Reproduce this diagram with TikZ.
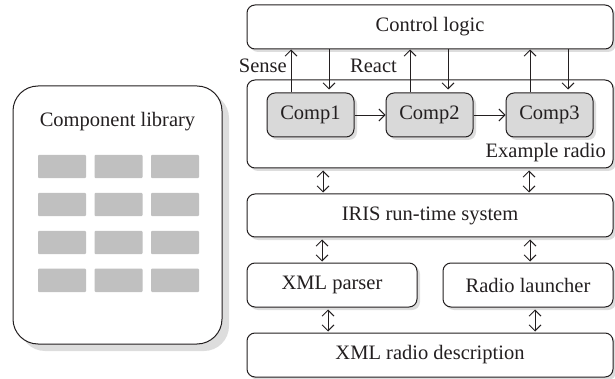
\documentclass[tikz,border=0pt]{standalone}
\usepackage{fontspec}
\setmainfont{Liberation Serif}
\usetikzlibrary{arrows.meta,shadows,calc}
\definecolor{txt}{HTML}{231F20}
\definecolor{compfill}{HTML}{D9D9D9}
\definecolor{libgray}{HTML}{C0C0C0}
\definecolor{shade}{HTML}{DDDDDD}
\tikzset{
  box/.style={draw=txt, line width=1pt, rounded corners=8pt, fill=white,
    text=txt, font=\fontsize{20.5}{24}\selectfont, inner sep=0pt,
    drop shadow={shadow xshift=3pt, shadow yshift=-3pt, fill=shade, opacity=1}},
  compbox/.style={box, fill=compfill, minimum width=87pt, minimum height=44pt},
  wide/.style={box, minimum width=366pt, minimum height=44pt},
  arr/.style={draw=txt, line width=0.9pt, -{Straight Barb[length=6pt,width=12pt]}},
  darr/.style={draw=txt, line width=0.9pt, {Straight Barb[length=6pt,width=12pt]}-{Straight Barb[length=6pt,width=12pt]}},
  lbl/.style={text=txt, font=\fontsize{20.5}{24}\selectfont, inner sep=0pt},
}
\begin{document}
\begin{tikzpicture}[x=1pt,y=-1pt]
\useasboundingbox (0,0) rectangle (615,379);
% component library
\node[box, rounded corners=25pt, minimum width=209pt, minimum height=258pt,
  drop shadow={shadow xshift=7pt, shadow yshift=-7pt, fill=shade, opacity=1}] (lib) at (117.5,215) {};
\node[lbl, anchor=base] (libt) at (117.5,127) {Component library};
\foreach \cx in {62,118.5,175}{
  \foreach \cy in {166.5,204.5,242.5,280.3}{
    \fill[libgray, rounded corners=1pt] (\cx-24,\cy-11.7) rectangle (\cx+24,\cy+11.7);
  }
}
% right stack
\node[wide] (ctrl) at (430,27) {Control logic};
\node[wide, minimum height=88pt] (radio) at (430,124) {};
\node[lbl, anchor=base east] (exr) at (606,158) {Example radio};
\node[compbox] (c1) at (310.5,115) {Comp1};
\node[compbox] (c2) at (429.5,115) {Comp2};
\node[compbox] (c3) at (549.5,115) {Comp3};
\node[wide, minimum height=43pt] (iris) at (430,215.5) {IRIS run-time system};
\node[box, minimum width=170pt, minimum height=44pt] (parser) at (332,285) {XML parser};
\node[box, minimum width=170pt, minimum height=44pt] (launch) at (528,285) {Radio launcher};
\node[wide] (desc) at (430,355) {XML radio description};
\node[lbl, anchor=base east] (sense) at (287,73) {Sense};
\node[lbl, anchor=base west] (react) at (350,73) {React};
% sense / react arrows
\foreach \c in {c1,c2,c3}{
  \draw[arr] ([xshift=-19.5pt]\c.north) -- ([xshift=-19.5pt]\c.north |- ctrl.south);
  \draw[arr, shorten >=3pt] ([xshift=18.5pt]\c.north |- ctrl.south) -- ([xshift=18.5pt]\c.north);
}
\draw[arr] (c1) -- (c2);
\draw[arr] (c2) -- (c3);
% double arrows
\draw[darr, shorten <=2pt, shorten >=1pt] (323,0 |- radio.south) -- (323,0 |- iris.north);
\draw[darr, shorten <=2pt, shorten >=1pt] (529,0 |- radio.south) -- (529,0 |- iris.north);
\draw[darr, shorten <=2pt, shorten >=1pt] (322,0 |- iris.south) -- (322,0 |- parser.north);
\draw[darr, shorten <=2pt, shorten >=1pt] (530,0 |- iris.south) -- (530,0 |- launch.north);
\draw[darr, shorten <=2pt, shorten >=1pt] (328,0 |- parser.south) -- (328,0 |- desc.north);
\draw[darr, shorten <=2pt, shorten >=1pt] (535,0 |- launch.south) -- (535,0 |- desc.north);
\end{tikzpicture}
\end{document}
